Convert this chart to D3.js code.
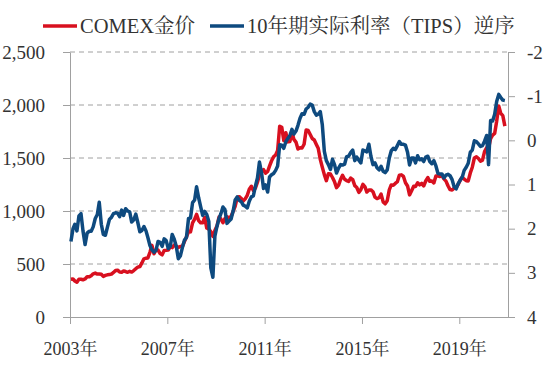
<!DOCTYPE html>
<html><head><meta charset="utf-8">
<script src="https://cdn.jsdelivr.net/npm/d3@7"></script>
<style>body{margin:0;background:#fff} svg{display:block}</style>
</head><body><svg id="c" width="550" height="368"></svg>
<script>
// Monthly data, Jan 2003 – Nov 2020
const startYear = 2003;
const seriesNames = ["COMEX金价", "10年期实际利率（TIPS）逆序"];
const gold = [
 356,359,340,328,355,356,351,359,379,379,389,407,
 414,405,406,403,383,392,398,400,405,420,439,442,
 424,423,434,429,422,431,424,438,456,470,476,510,
 549,555,557,610,676,596,633,632,598,586,628,629,
 631,665,655,679,667,655,665,665,712,754,806,803,
 889,923,968,909,888,889,939,839,829,806,760,816,
 858,943,924,890,929,946,934,949,996,1043,1127,1135,
 1118,1095,1114,1148,1205,1233,1193,1215,1271,1342,1370,1391,
 1357,1373,1424,1474,1511,1529,1572,1800,1790,1666,1739,1652,
 1656,1743,1675,1650,1585,1596,1594,1630,1765,1760,1722,1684,
 1670,1628,1592,1487,1414,1343,1286,1352,1349,1316,1275,1221,
 1244,1300,1336,1299,1287,1279,1311,1296,1239,1222,1176,1201,
 1251,1227,1179,1198,1199,1182,1131,1117,1125,1159,1086,1068,
 1097,1199,1246,1242,1260,1276,1337,1341,1326,1267,1236,1152,
 1192,1234,1231,1266,1246,1260,1236,1283,1315,1280,1283,1265,
 1331,1331,1325,1335,1303,1282,1238,1202,1198,1215,1221,1250,
 1291,1320,1301,1286,1284,1359,1413,1500,1511,1495,1470,1480,
 1560,1597,1591,1683,1716,1732,1847,1990,1921,1900,1800
];
const tipsYield = [
 2.29,2.00,1.90,2.05,1.71,1.66,2.05,2.36,2.10,2.06,2.06,1.96,
 1.77,1.68,1.40,1.90,2.13,2.15,1.97,1.79,1.74,1.66,1.64,1.65,
 1.73,1.58,1.70,1.55,1.60,1.62,1.85,1.80,1.67,1.86,2.07,2.04,
 1.95,2.05,2.20,2.38,2.48,2.53,2.49,2.29,2.31,2.40,2.23,2.27,
 2.45,2.40,2.13,2.24,2.40,2.68,2.62,2.43,2.26,2.20,1.77,1.76,
 1.41,1.35,1.05,1.30,1.50,1.70,1.61,1.68,1.84,2.89,3.10,2.17,
 1.95,1.77,1.66,1.51,1.57,1.88,1.83,1.78,1.60,1.35,1.28,1.36,
 1.39,1.47,1.49,1.53,1.38,1.28,1.26,1.04,0.85,0.49,0.73,1.09,
 1.01,1.17,0.83,0.78,0.75,0.68,0.58,0.10,0.11,0.18,0.03,-0.04,
 -0.11,-0.25,-0.14,-0.21,-0.34,-0.50,-0.60,-0.59,-0.71,-0.75,-0.82,-0.80,
 -0.65,-0.57,-0.59,-0.65,-0.36,0.25,0.46,0.55,0.66,0.43,0.55,0.74,
 0.63,0.55,0.56,0.54,0.37,0.36,0.28,0.22,0.46,0.38,0.45,0.51,
 0.22,0.24,0.26,0.09,0.36,0.55,0.51,0.62,0.67,0.59,0.70,0.73,
 0.67,0.40,0.24,0.18,0.21,0.12,0.03,0.09,0.09,0.11,0.27,0.56,
 0.40,0.40,0.51,0.35,0.44,0.42,0.48,0.38,0.36,0.48,0.53,0.46,
 0.58,0.75,0.76,0.76,0.85,0.79,0.77,0.80,0.89,1.05,1.10,0.98,
 0.90,0.83,0.68,0.61,0.52,0.27,0.22,0.01,0.03,0.08,0.14,0.12,
 0.02,-0.11,0.55,-0.45,-0.44,-0.59,-0.88,-1.04,-0.97,-0.91,-0.90
];
const xTickYears = [2003, 2007, 2011, 2015, 2019];
const leftTicks = [0, 500, 1000, 1500, 2000, 2500];
const rightTicks = [-2, -1, 0, 1, 2, 3, 4];

const RED = "#d8101f", BLUE = "#0e4a7f", AX = "#a0a0a0", TXT = "#333";
const FONT = "'Liberation Serif','Times New Roman','Noto Serif CJK SC','Noto Sans CJK SC',serif";

const m = {l: 70, r: 508, t: 52, b: 317};
const svg = d3.select("#c");
const x = d3.scaleTime().domain([new Date(2003, 0, 1), new Date(2021, 0, 1)]).range([m.l, m.r]);
const yL = d3.scaleLinear().domain([0, 2500]).range([m.b, m.t]);
const yR = d3.scaleLinear().domain([-2, 4]).range([m.t, m.b]);
const dates = gold.map((_, i) => new Date(startYear, i, 15));

// gridlines
svg.append("g").selectAll("line").data(leftTicks.filter(d => d > 0)).join("line")
  .attr("x1", m.l).attr("x2", m.r).attr("y1", d => yL(d)).attr("y2", d => yL(d))
  .attr("stroke", AX).attr("stroke-width", 1).attr("stroke-dasharray", "5,4");

function styleAxis(g, size) {
  g.select(".domain").attr("stroke", AX);
  g.selectAll(".tick line").attr("stroke", AX);
  g.selectAll("text").attr("fill", TXT).attr("font-family", FONT).attr("font-size", size);
}

svg.append("g").attr("transform", `translate(${m.l},0)`)
  .call(d3.axisLeft(yL).tickValues(leftTicks).tickSize(7).tickSizeOuter(0).tickPadding(18).tickFormat(d3.format(",")))
  .call(g => styleAxis(g, 19));

svg.append("g").attr("transform", `translate(${m.r},0)`)
  .call(d3.axisRight(yR).tickValues(rightTicks).tickSize(7).tickSizeOuter(0).tickPadding(12).tickFormat(d => String(d)))
  .call(g => styleAxis(g, 19));

svg.append("g").attr("transform", `translate(0,${m.b})`)
  .call(d3.axisBottom(x).tickValues(xTickYears.map(y => new Date(y, 0, 1))).tickSize(7).tickSizeOuter(0).tickPadding(18)
    .tickFormat(d => d.getFullYear() + "年"))
  .call(g => styleAxis(g, 18));

// series
const lineGold = d3.line().x((d, i) => x(dates[i])).y(d => yL(d));
const lineTips = d3.line().x((d, i) => x(dates[i])).y(d => yR(d));
svg.append("path").datum(gold).attr("d", lineGold).attr("fill", "none")
  .attr("stroke", RED).attr("stroke-width", 3.5).attr("stroke-linejoin", "round");
svg.append("path").datum(tipsYield).attr("d", lineTips).attr("fill", "none")
  .attr("stroke", BLUE).attr("stroke-width", 3.5).attr("stroke-linejoin", "round");

// legend
const leg = [{c: RED, x: 43, name: seriesNames[0]}, {c: BLUE, x: 210, name: seriesNames[1]}];
const lg = svg.append("g");
leg.forEach(d => {
  lg.append("line").attr("x1", d.x).attr("x2", d.x + 34).attr("y1", 26).attr("y2", 26)
    .attr("stroke", d.c).attr("stroke-width", 3.5);
  lg.append("text").attr("x", d.x + 37).attr("y", 33).text(d.name)
    .attr("fill", TXT).attr("font-family", FONT).attr("font-size", 20.5);
});
</script></body></html>
